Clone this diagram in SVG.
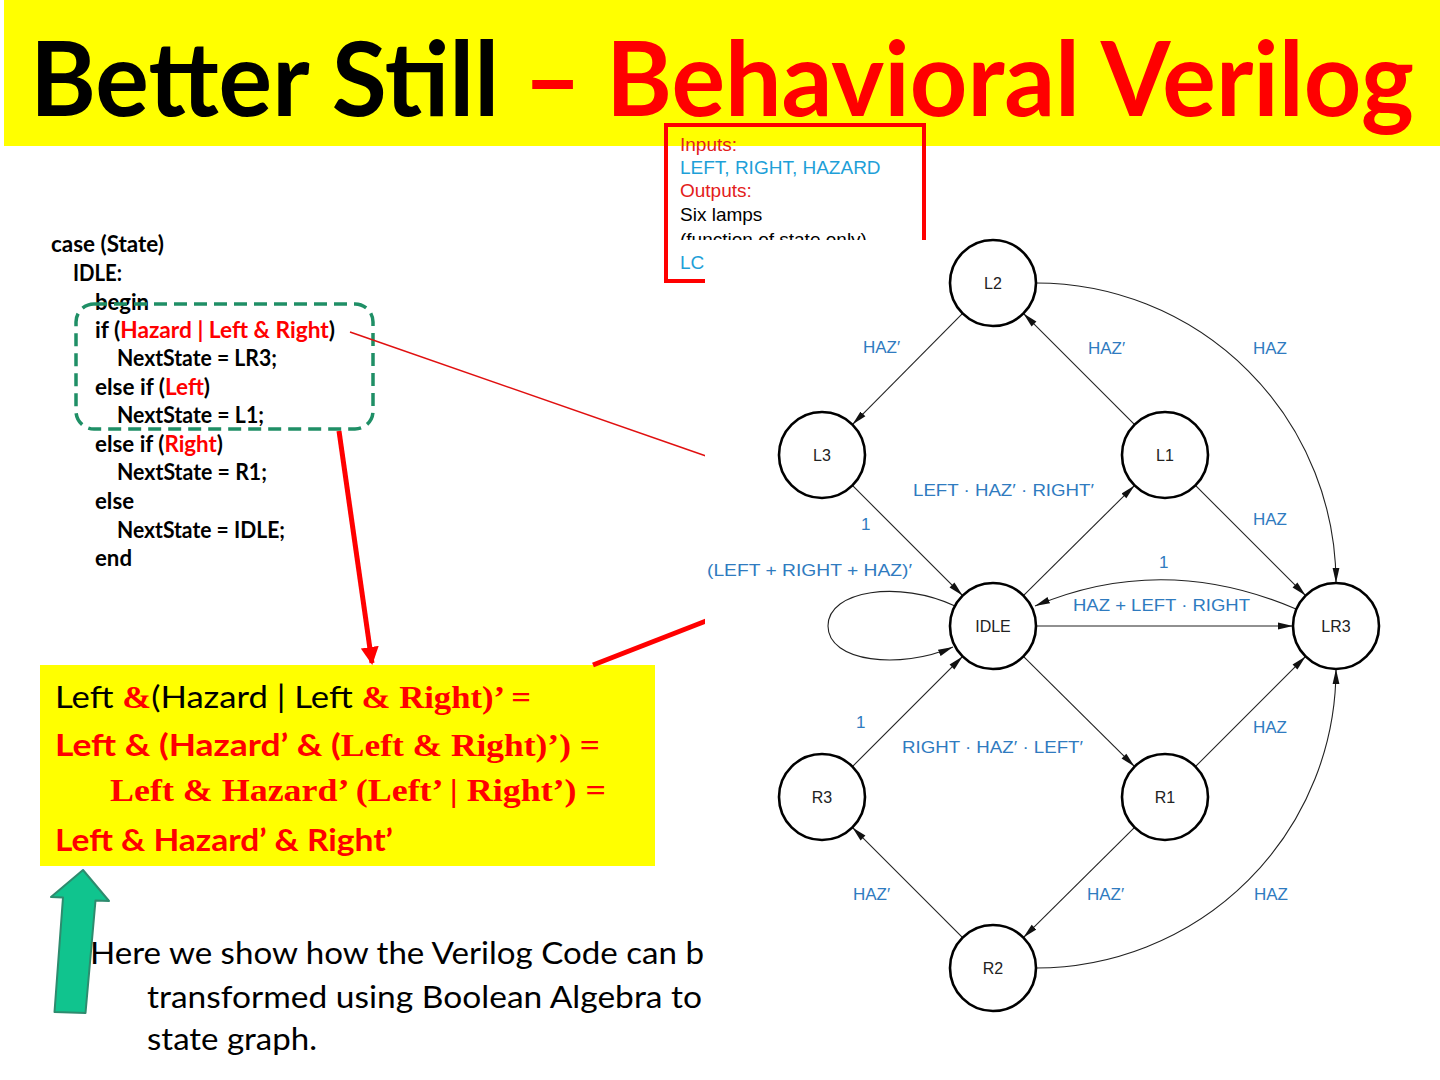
<svg xmlns="http://www.w3.org/2000/svg" width="1440" height="1080" viewBox="0 0 1440 1080">
<style>
.code{font-family:Lato,"Liberation Sans",sans-serif;font-weight:700;font-size:22.5px;fill:#000}
.red{fill:#ff0000}
.cal{font-family:Lato,"Liberation Sans",sans-serif}
.calb{font-family:Lato,"Liberation Sans",sans-serif;font-weight:700}
.tim{font-family:"Liberation Serif",serif;font-weight:700}
.box{font-family:"Liberation Sans",Arial,sans-serif;font-size:19px}
.lbl{font-family:"Liberation Sans",Arial,sans-serif;font-size:17px;fill:#2f7bbf}
.node circle{fill:#fff;stroke:#000;stroke-width:2.6}
.node text{font-family:"Liberation Sans",Arial,sans-serif;font-size:16px;fill:#222;text-anchor:middle}
.edge{fill:none;stroke:#222;stroke-width:1.1;marker-end:url(#ah)}
</style>
<defs>
<marker id="ah" markerWidth="15" markerHeight="8" refX="15" refY="4" orient="auto" markerUnits="userSpaceOnUse">
<path d="M0,0.6 L15,4 L0,7.4 z" fill="#111"/>
</marker>
<marker id="rah" markerWidth="18" markerHeight="18" refX="16" refY="9" orient="auto" markerUnits="userSpaceOnUse">
<path d="M0,0 L18,9 L0,18 z" fill="#ff0000"/>
</marker>
</defs>
<rect x="0" y="0" width="1440" height="1080" fill="#fff"/>

<g id="title">
<rect x="4" y="0" width="1436" height="146" fill="#ffff00"/>
<text x="30" y="116" font-family="Lato,'Liberation Sans',sans-serif" font-weight="700" font-size="104" textLength="1384" lengthAdjust="spacingAndGlyphs"><tspan fill="#000">Better Still </tspan><tspan fill="#ff0000">– Behavioral Verilog</tspan></text>
</g>

<g id="io-box">
<rect x="666" y="125" width="258" height="156" fill="none" stroke="#ff0000" stroke-width="4"/>
<text class="box" x="680" y="151" fill="#e3201b">Inputs:</text>
<text class="box" x="680" y="174" fill="#1e9fd8">LEFT, RIGHT, HAZARD</text>
<text class="box" x="680" y="197" fill="#e3201b">Outputs:</text>
<text class="box" x="680" y="221" fill="#000">Six lamps</text>
<text class="box" x="680" y="246" fill="#000">(function of state only)</text>
<rect x="668.5" y="240" width="40" height="38" fill="#fff"/>
</g>

<g id="code">
<text class="code" x="51" y="252" textLength="113" lengthAdjust="spacingAndGlyphs">case (State)</text>
<text class="code" x="73" y="281" textLength="49" lengthAdjust="spacingAndGlyphs">IDLE:</text>
<text class="code" x="95" y="310" textLength="54" lengthAdjust="spacingAndGlyphs">begin</text>
<text class="code" x="95" y="338" textLength="240" lengthAdjust="spacingAndGlyphs">if (<tspan class="red">Hazard | Left &amp; Right</tspan>)</text>
<text class="code" x="117" y="366" textLength="160" lengthAdjust="spacingAndGlyphs">NextState = LR3;</text>
<text class="code" x="95" y="395" textLength="115" lengthAdjust="spacingAndGlyphs">else if (<tspan class="red">Left</tspan>)</text>
<text class="code" x="117" y="423" textLength="147" lengthAdjust="spacingAndGlyphs">NextState = L1;</text>
<text class="code" x="95" y="452" textLength="128" lengthAdjust="spacingAndGlyphs">else if (<tspan class="red">Right</tspan>)</text>
<text class="code" x="117" y="480" textLength="150" lengthAdjust="spacingAndGlyphs">NextState = R1;</text>
<text class="code" x="95" y="509" textLength="39" lengthAdjust="spacingAndGlyphs">else</text>
<text class="code" x="117" y="538" textLength="168" lengthAdjust="spacingAndGlyphs">NextState = IDLE;</text>
<text class="code" x="95" y="566" textLength="37" lengthAdjust="spacingAndGlyphs">end</text>
<rect x="76" y="304" width="297" height="125" rx="18" fill="none" stroke="#1f8f66" stroke-width="3.5" stroke-dasharray="13 7"/>
</g>

<g id="bool-box">
<rect x="40" y="665" width="615" height="201" fill="#ffff00"/>
<text x="55" y="708" font-size="31" textLength="476" lengthAdjust="spacingAndGlyphs"><tspan class="cal" fill="#000">Left </tspan><tspan class="tim" fill="#ff0000">&amp;</tspan><tspan class="cal" fill="#000">(Hazard | Left </tspan><tspan class="tim" fill="#ff0000">&amp; Right)’ =</tspan></text>
<text x="55" y="756" font-size="31" fill="#ff0000" textLength="545" lengthAdjust="spacingAndGlyphs"><tspan class="calb">Left &amp; (Hazard’ &amp; (</tspan><tspan class="tim">Left &amp; Right)’) =</tspan></text>
<text x="110" y="801" font-size="31" fill="#ff0000" class="tim" textLength="496" lengthAdjust="spacingAndGlyphs">Left &amp; Hazard’ (Left’ | Right’) =</text>
<text x="55" y="851" font-size="31" fill="#ff0000" class="calb" textLength="338" lengthAdjust="spacingAndGlyphs">Left &amp; Hazard’ &amp; Right’</text>
</g>

<g id="pointers">
<line x1="350" y1="332" x2="706" y2="456" stroke="#e01010" stroke-width="1.5"/>
<line x1="339" y1="431" x2="372" y2="663" stroke="#ff0000" stroke-width="5" marker-end="url(#rah)"/>
<line x1="593" y1="665" x2="706" y2="621" stroke="#ff0000" stroke-width="5"/>
<polygon points="83,870 109,901 95.5,900.5 85.5,1013 54.5,1012 63,897.5 51,897" fill="#10c48e" stroke="#2e8b6e" stroke-width="2" stroke-linejoin="round"/>
</g>

<g id="caption">
<text x="90" y="964" font-family="Lato,'Liberation Sans',sans-serif" font-size="30" fill="#000" textLength="614" lengthAdjust="spacingAndGlyphs">Here we show how the Verilog Code can b</text>
<text x="147" y="1008" font-family="Lato,'Liberation Sans',sans-serif" font-size="30" fill="#000" textLength="555" lengthAdjust="spacingAndGlyphs">transformed using Boolean Algebra to</text>
<text x="147" y="1050" font-family="Lato,'Liberation Sans',sans-serif" font-size="30" fill="#000" textLength="170" lengthAdjust="spacingAndGlyphs">state graph.</text>
</g>

<rect id="graph-bg" x="705" y="240" width="735" height="790" fill="#fff"/>
<text class="box" x="680" y="269" fill="#1e9fd8">LC</text>

<g id="connectors">
<line class="edge" x1="962.6" y1="313.4" x2="852.4" y2="424.6"/>
<line class="edge" x1="1134.6" y1="424.6" x2="1023.4" y2="313.4"/>
<path class="edge" d="M1036,283 A300,300 0 0 1 1336,583"/>
<line class="edge" x1="852.4" y1="485.4" x2="962.6" y2="595.6"/>
<line class="edge" x1="1023.4" y1="595.6" x2="1134.6" y2="485.4"/>
<line class="edge" x1="1195.4" y1="485.4" x2="1305.6" y2="595.6"/>
<path class="edge" d="M1296,609 Q1163,552 1035,606"/>
<line class="edge" x1="1036" y1="626" x2="1293" y2="626"/>
<path class="edge" d="M955,606 C900,580 828,590 828,626 C828,662 900,670 953,647"/>
<line class="edge" x1="1023.4" y1="656.4" x2="1134.6" y2="766.6"/>
<line class="edge" x1="852.4" y1="766.6" x2="962.6" y2="656.4"/>
<line class="edge" x1="1195.4" y1="766.6" x2="1305.6" y2="656.4"/>
<line class="edge" x1="962.6" y1="937.6" x2="852.4" y2="827.4"/>
<line class="edge" x1="1134.6" y1="827.4" x2="1023.4" y2="937.6"/>
<path class="edge" d="M1036,968 A300,299 0 0 0 1336,669"/>
</g>

<g id="edge-labels">
<text class="lbl" x="863" y="353">HAZ′</text>
<text class="lbl" x="1088" y="354">HAZ′</text>
<text class="lbl" x="1253" y="354">HAZ</text>
<text class="lbl" x="913" y="496" textLength="181" lengthAdjust="spacingAndGlyphs">LEFT · HAZ′ · RIGHT′</text>
<text class="lbl" x="861" y="530">1</text>
<text class="lbl" x="1253" y="525">HAZ</text>
<text class="lbl" x="707" y="576" textLength="205" lengthAdjust="spacingAndGlyphs">(LEFT + RIGHT + HAZ)′</text>
<text class="lbl" x="1159" y="568">1</text>
<text class="lbl" x="1073" y="611" textLength="177" lengthAdjust="spacingAndGlyphs">HAZ + LEFT · RIGHT</text>
<text class="lbl" x="856" y="728">1</text>
<text class="lbl" x="902" y="753" textLength="181" lengthAdjust="spacingAndGlyphs">RIGHT · HAZ′ · LEFT′</text>
<text class="lbl" x="1253" y="733">HAZ</text>
<text class="lbl" x="853" y="900">HAZ′</text>
<text class="lbl" x="1087" y="900">HAZ′</text>
<text class="lbl" x="1254" y="900">HAZ</text>
</g>

<g id="node-L2" class="node"><circle cx="993" cy="283" r="43"/><text x="993" y="289">L2</text></g>
<g id="node-L3" class="node"><circle cx="822" cy="455" r="43"/><text x="822" y="461">L3</text></g>
<g id="node-L1" class="node"><circle cx="1165" cy="455" r="43"/><text x="1165" y="461">L1</text></g>
<g id="node-IDLE" class="node"><circle cx="993" cy="626" r="43"/><text x="993" y="632">IDLE</text></g>
<g id="node-LR3" class="node"><circle cx="1336" cy="626" r="43"/><text x="1336" y="632">LR3</text></g>
<g id="node-R3" class="node"><circle cx="822" cy="797" r="43"/><text x="822" y="803">R3</text></g>
<g id="node-R1" class="node"><circle cx="1165" cy="797" r="43"/><text x="1165" y="803">R1</text></g>
<g id="node-R2" class="node"><circle cx="993" cy="968" r="43"/><text x="993" y="974">R2</text></g>
</svg>
